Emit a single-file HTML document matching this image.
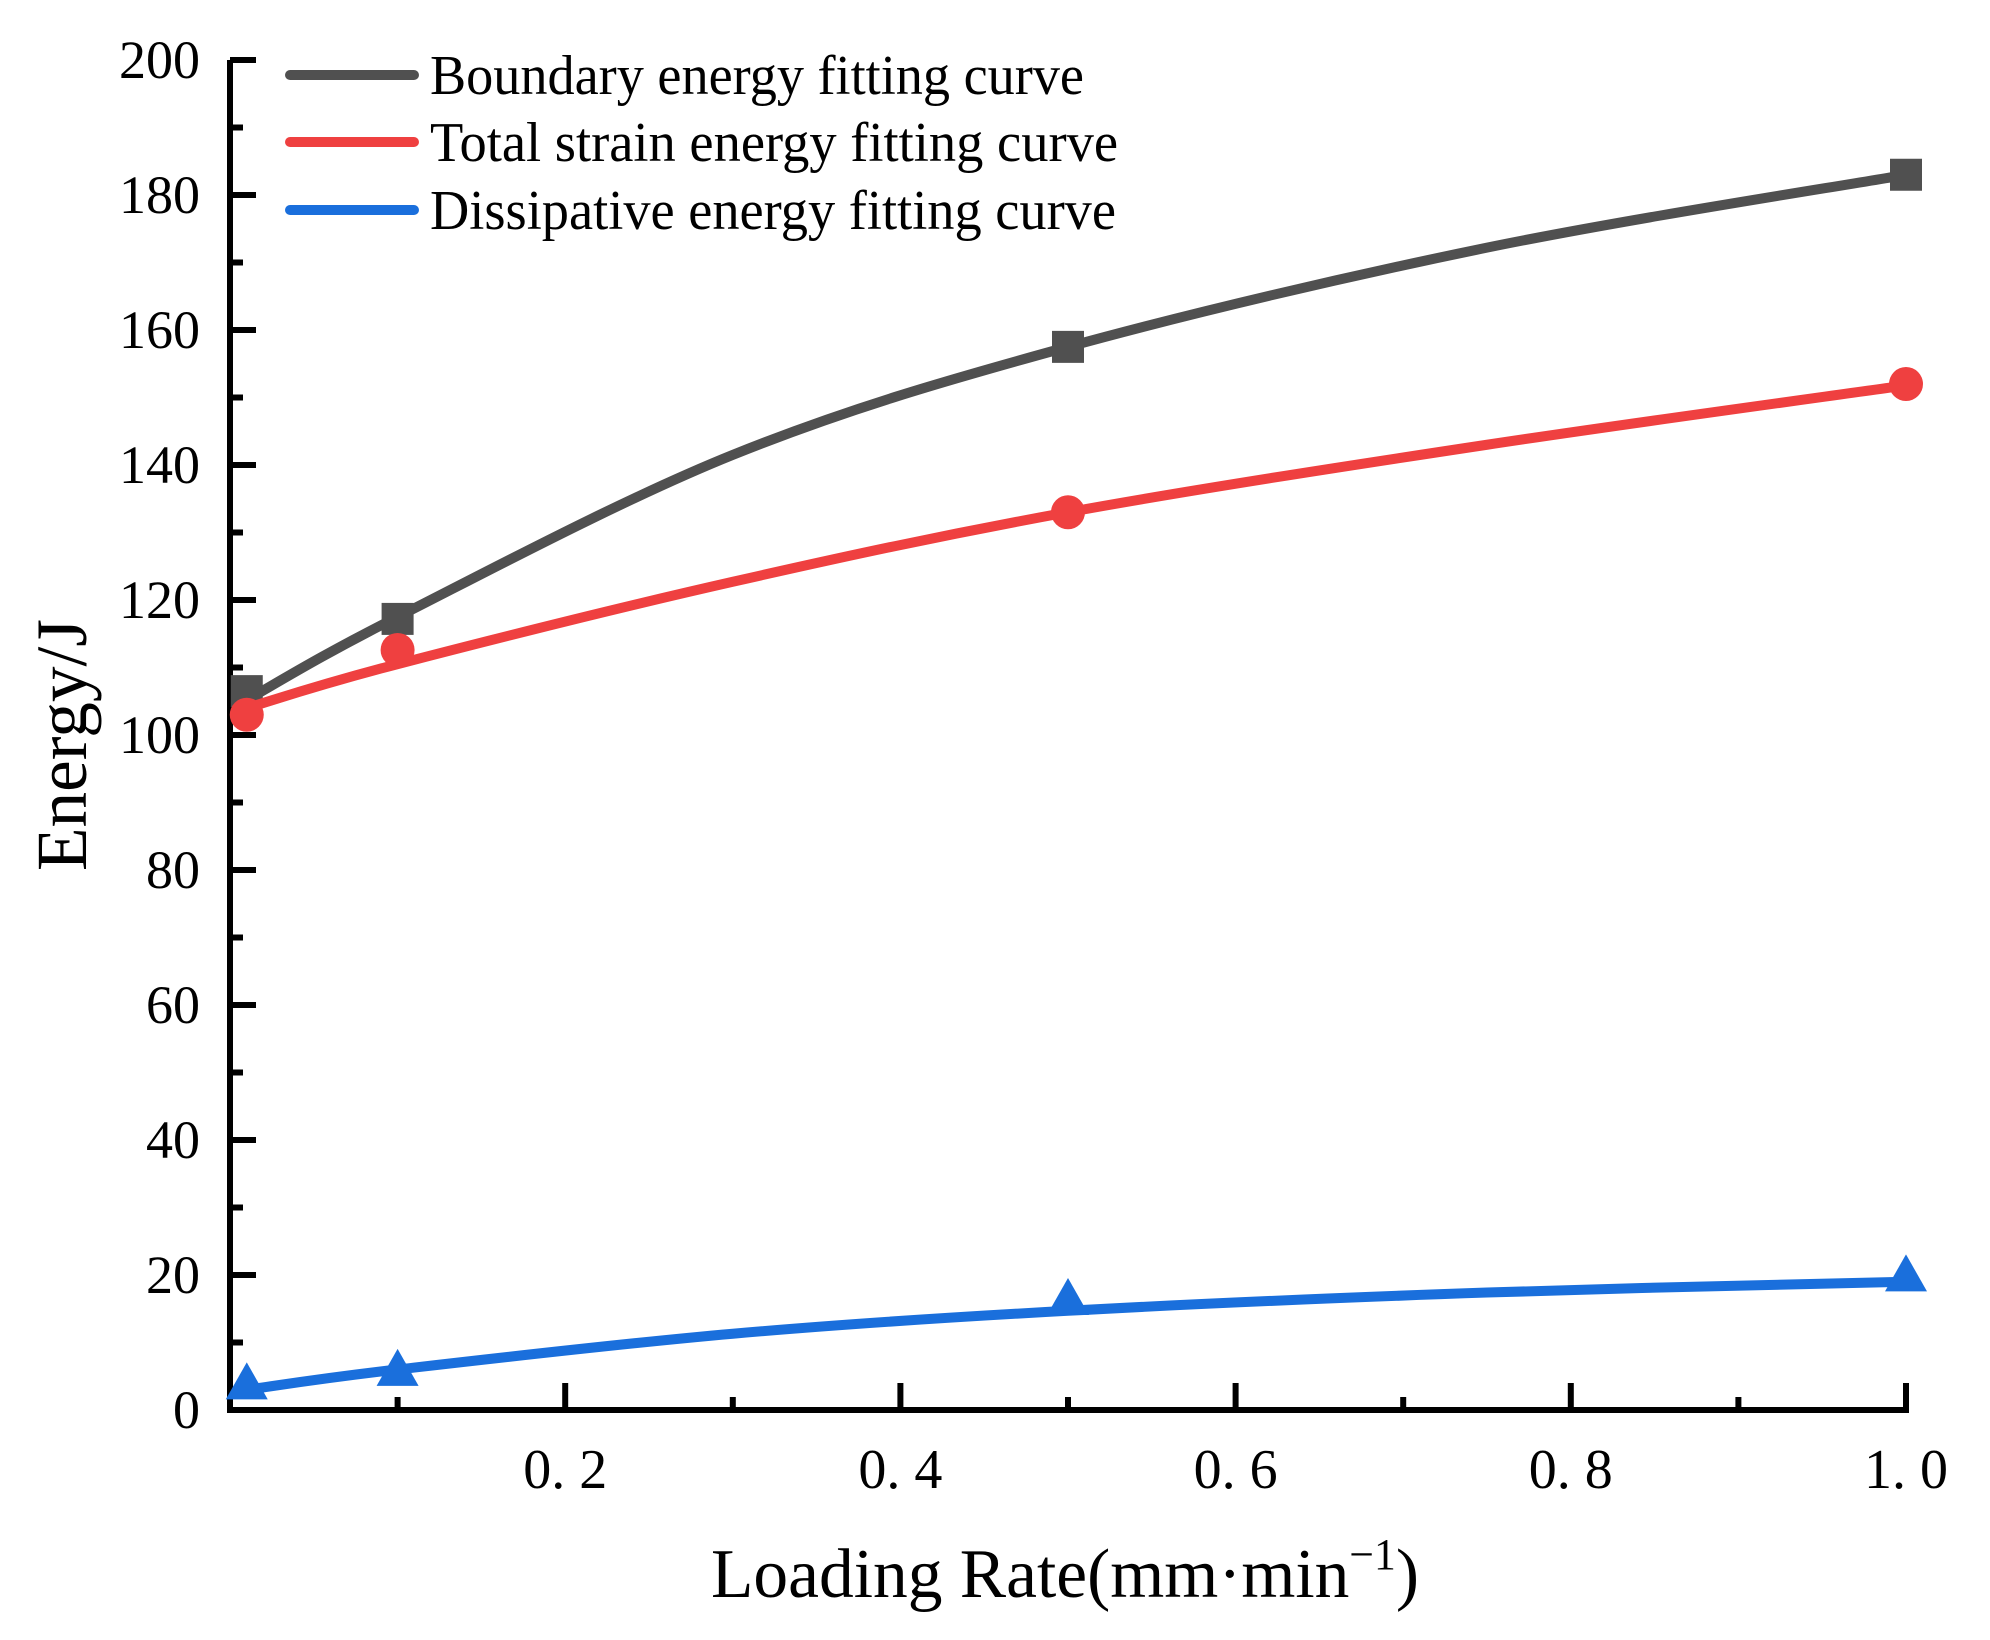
<!DOCTYPE html>
<html><head><meta charset="utf-8"><style>
html,body{margin:0;padding:0;background:#fff}
svg{display:block;font-family:"Liberation Serif",serif}
</style></head><body>
<svg id="chart" width="1990" height="1640" viewBox="0 0 1990 1640" xmlns="http://www.w3.org/2000/svg">
<g id="axes"></g>
<g id="series"></g>
<g id="legend"></g>
<text x="86" y="745" font-size="72" text-anchor="middle" textLength="252" lengthAdjust="spacingAndGlyphs" transform="rotate(-90 86 745)">Energy/J</text>
<text x="711" y="1597" font-size="70" textLength="708" lengthAdjust="spacingAndGlyphs">Loading Rate(mm·min<tspan dy="-28" font-size="44">−1</tspan><tspan dy="28">)</tspan></text>
</svg>
<script>
const xTickValues = [0.2, 0.4, 0.6, 0.8, 1.0];
const xTickLabels = ["0. 2", "0. 4", "0. 6", "0. 8", "1. 0"];
const yTickValues = [0, 20, 40, 60, 80, 100, 120, 140, 160, 180, 200];
const yTickLabels = ["0", "20", "40", "60", "80", "100", "120", "140", "160", "180", "200"];
const pointX = [0.01, 0.1, 0.5, 1.0];
const boundaryPoints = [106.5, 117.2, 157.5, 183];
const totalPoints = [103, 112.6, 133, 152];
const dissipativePoints = [3.5, 5.5, 16, 19.5];
const fitX = [0.01, 0.1, 0.3, 0.5, 0.75, 1.0];
const boundaryFit = [105.2, 117.5, 141.5, 157.5, 172.2, 183];
const totalFit = [104, 110.5, 122.7, 133, 143, 151.8];
const dissipativeFit = [3, 6, 11.3, 14.7, 17.4, 19];
const legendLabels = ["Boundary energy fitting curve", "Total strain energy fitting curve", "Dissipative energy fitting curve"];

const NS = "http://www.w3.org/2000/svg";
const X0 = 230, X1 = 1906, Y0 = 1410, Y1 = 60;
function sx(v){ return X0 + v * (X1 - X0); }
function sy(v){ return Y0 - v / 200 * (Y0 - Y1); }
function mk(tag, attrs, parent){ const e = document.createElementNS(NS, tag); for (const k in attrs) e.setAttribute(k, attrs[k]); parent.appendChild(e); return e; }

const axes = document.getElementById('axes');
for (let i = 1; i < 20; i += 2) {
  const t = mk('line', {x1: X0, x2: X0 + 13, y1: sy(i * 10), y2: sy(i * 10), stroke: '#000', 'stroke-width': 6}, axes);
  
  
}
for (let i = 1; i < 10; i += 2) {
  const t = mk('line', {x1: sx(i / 10), x2: sx(i / 10), y1: Y0, y2: Y0 - 13, stroke: '#000', 'stroke-width': 6}, axes);
  
  
}
yTickValues.forEach((v, i) => {
  const t = mk('line', {x1: X0, x2: X0 + 26, y1: sy(v), y2: sy(v), stroke: '#000', 'stroke-width': 6}, axes);
  
  
  const l = mk('text', {x: 200, y: sy(v) + 18, 'font-size': 54, 'text-anchor': 'end'}, axes);
  l.textContent = yTickLabels[i];
  
  
});
xTickValues.forEach((v, i) => {
  const t = mk('line', {x1: sx(v), x2: sx(v), y1: Y0, y2: Y0 - 27, stroke: '#000', 'stroke-width': 6}, axes);
  
  
  const l = mk('text', {x: sx(v), y: 1488, 'font-size': 56, 'text-anchor': 'middle'}, axes);
  l.textContent = xTickLabels[i];
  
  
});
const ax = mk('path', {d: `M${X0} ${Y1} L${X0} ${Y0} L${X1} ${Y0} L${X1} ${Y0-27}`, fill: 'none', stroke: '#000', 'stroke-width': 6}, axes);


const topTick = mk('line', {x1: X0, x2: X0 + 26, y1: Y1, y2: Y1, stroke: '#000', 'stroke-width': 6}, axes);



function smoothPath(xs, ys){
  const p = xs.map((x, i) => [sx(x), sy(ys[i])]);
  let d = `M${p[0][0]} ${p[0][1]}`;
  for (let i = 0; i < p.length - 1; i++) {
    const a = p[Math.max(0, i-1)], b = p[i], c = p[i+1], e = p[Math.min(p.length-1, i+2)];
    const c1 = [b[0] + (c[0]-a[0])/6, b[1] + (c[1]-a[1])/6];
    const c2 = [c[0] - (e[0]-b[0])/6, c[1] - (e[1]-b[1])/6];
    d += ` C${c1[0]} ${c1[1]} ${c2[0]} ${c2[1]} ${c[0]} ${c[1]}`;
  }
  return d;
}
const series = document.getElementById('series');
const defs = [
  {fit: boundaryFit, pts: boundaryPoints, color: '#505050', shape: 'square', name: 'boundary'},
  {fit: totalFit, pts: totalPoints, color: '#ef4040', shape: 'circle', name: 'total-strain'},
  {fit: dissipativeFit, pts: dissipativePoints, color: '#1a6fdc', shape: 'triangle', name: 'dissipative'}
];
defs.forEach(s => {
  const line = mk('path', {d: smoothPath(fitX, s.fit), fill: 'none', stroke: s.color, 'stroke-width': 10}, series);
  
  
  s.pts.forEach((v, i) => {
    const cx = sx(pointX[i]), cy = sy(v);
    let m;
    if (s.shape === 'square') m = mk('rect', {x: cx - 16, y: cy - 16, width: 32, height: 32, fill: s.color}, series);
    else if (s.shape === 'circle') m = mk('circle', {cx: cx, cy: cy, r: 17, fill: s.color}, series);
    else m = mk('polygon', {points: `${cx},${cy-24} ${cx+21},${cy+13} ${cx-21},${cy+13}`, fill: s.color}, series);
    
    
  });
});

const legend = document.getElementById('legend');
const ly = [75, 142, 210];
const lw = [654, 688, 686];
defs.forEach((s, i) => {
  const l = mk('line', {x1: 290, x2: 414, y1: ly[i], y2: ly[i], stroke: s.color, 'stroke-width': 10, 'stroke-linecap': 'round'}, legend);
  
  
  const t = mk('text', {x: 430, y: ly[i] + 19, 'font-size': 56, textLength: lw[i], lengthAdjust: 'spacingAndGlyphs'}, legend);
  t.textContent = legendLabels[i];
  
  
});
</script>
</body></html>
